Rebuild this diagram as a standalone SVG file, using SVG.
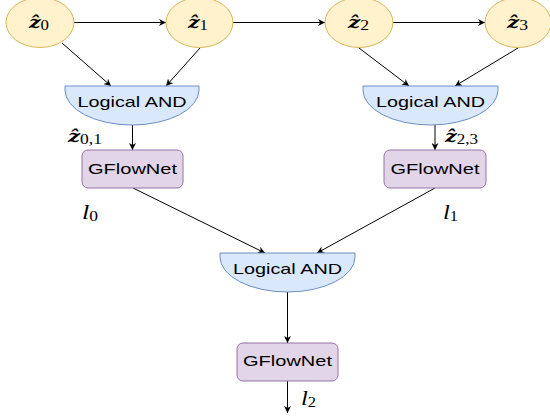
<svg xmlns="http://www.w3.org/2000/svg" width="550" height="419" viewBox="0 0 550 419">
<style>
.ell{fill:#fff2cc;stroke:#d6b656;stroke-width:1}
.and{fill:#dae8fc;stroke:#6c8ebf;stroke-width:1}
.gfn{fill:#e1d5e7;stroke:#9673a6;stroke-width:1}
.lbl{font-family:"Liberation Sans",Arial,sans-serif;font-size:15px;fill:#000;text-anchor:middle}
.math{font-family:"DejaVu Serif","Liberation Serif",serif;font-style:italic;font-weight:bold;font-size:17px;fill:#000}
.ml{font-family:"Liberation Serif","Times New Roman",serif;font-style:italic;font-weight:normal;font-size:21px;fill:#000}
.sub{font-family:"Liberation Serif","Times New Roman",serif;font-style:normal;font-weight:normal;font-size:14px}
.edge{stroke:#000;stroke-width:1;fill:none;marker-end:url(#arr)}
</style>
<defs>
<marker id="arr" viewBox="0 0 10 10" refX="10" refY="5" markerWidth="7" markerHeight="7" markerUnits="userSpaceOnUse" orient="auto">
<path d="M0,0 L10,5 L0,10 L3,5 Z" fill="#000"/>
</marker>
</defs>
<g id="connectors">
<path class="edge" d="M73,22.5 H166"/>
<path class="edge" d="M233,22.5 H325"/>
<path class="edge" d="M393,22.5 H485"/>
<path class="edge" d="M62,43 L111,86"/>
<path class="edge" d="M200,48 L166,86"/>
<path class="edge" d="M359,48 L409,86"/>
<path class="edge" d="M518,48 L455,86"/>
<path class="edge" d="M132.5,125 V150"/>
<path class="edge" d="M435,125 V150"/>
<path class="edge" d="M133,188 L265,253"/>
<path class="edge" d="M435,188 L317,253"/>
<path class="edge" d="M287.5,292 V343"/>
<path class="edge" d="M287.5,381 V413"/>
</g>
<g id="z0"><ellipse class="ell" cx="40" cy="22.5" rx="34" ry="25"/><text class="math" x="29" y="28" textLength="20" lengthAdjust="spacingAndGlyphs">ẑ<tspan class="sub" dy="2">0</tspan></text></g>
<g id="z1"><ellipse class="ell" cx="199.5" cy="22.5" rx="33.5" ry="25"/><text class="math" x="188" y="28" textLength="20" lengthAdjust="spacingAndGlyphs">ẑ<tspan class="sub" dy="2">1</tspan></text></g>
<g id="z2"><ellipse class="ell" cx="359" cy="22.5" rx="34" ry="25"/><text class="math" x="348" y="28" textLength="21" lengthAdjust="spacingAndGlyphs">ẑ<tspan class="sub" dy="2">2</tspan></text></g>
<g id="z3"><ellipse class="ell" cx="518" cy="22.5" rx="33" ry="25"/><text class="math" x="507" y="28" textLength="21" lengthAdjust="spacingAndGlyphs">ẑ<tspan class="sub" dy="2">3</tspan></text></g>
<g id="and1"><path class="and" d="M65,86 H199 V90 A67,35 0 0 1 65,90 Z"/><text class="lbl" x="132" y="107" textLength="109" lengthAdjust="spacingAndGlyphs">Logical AND</text></g>
<g id="and2"><path class="and" d="M363,86 H498 V90 A67.5,35 0 0 1 363,90 Z"/><text class="lbl" x="430.5" y="107" textLength="109" lengthAdjust="spacingAndGlyphs">Logical AND</text></g>
<g id="and3"><path class="and" d="M220,253 H355 V257 A67.5,35 0 0 1 220,257 Z"/><text class="lbl" x="287.5" y="274" textLength="109" lengthAdjust="spacingAndGlyphs">Logical AND</text></g>
<g id="gfn1"><rect class="gfn" x="82" y="150" width="101" height="38" rx="6"/><text class="lbl" x="132.5" y="174" textLength="89" lengthAdjust="spacingAndGlyphs">GFlowNet</text></g>
<g id="gfn2"><rect class="gfn" x="384" y="150" width="102" height="38" rx="6"/><text class="lbl" x="435" y="174" textLength="89" lengthAdjust="spacingAndGlyphs">GFlowNet</text></g>
<g id="gfn3"><rect class="gfn" x="237" y="343" width="101" height="38" rx="6"/><text class="lbl" x="287.5" y="366" textLength="89" lengthAdjust="spacingAndGlyphs">GFlowNet</text></g>
<g id="labels">
<text class="math" x="68" y="142" textLength="34" lengthAdjust="spacingAndGlyphs">ẑ<tspan class="sub" dy="2">0,1</tspan></text>
<text class="math" x="445" y="142" textLength="33" lengthAdjust="spacingAndGlyphs">ẑ<tspan class="sub" dy="2">2,3</tspan></text>
<text class="ml" x="82" y="219" textLength="16" lengthAdjust="spacingAndGlyphs">l<tspan class="sub" dy="2">0</tspan></text>
<text class="ml" x="443" y="219" textLength="15" lengthAdjust="spacingAndGlyphs">l<tspan class="sub" dy="2">1</tspan></text>
<text class="ml" x="301" y="405" textLength="15" lengthAdjust="spacingAndGlyphs">l<tspan class="sub" dy="2">2</tspan></text>
</g>
</svg>
